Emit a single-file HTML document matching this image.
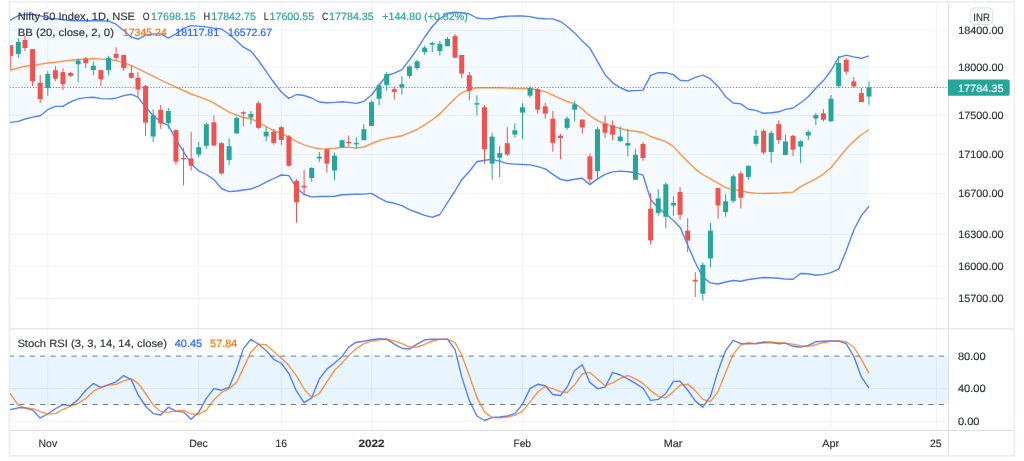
<!DOCTYPE html>
<html lang="en"><head><meta charset="utf-8"><title>Nifty 50 Index chart</title>
<style>html,body{margin:0;padding:0;background:#fff}body{width:1024px;height:461px;overflow:hidden}svg{display:block}text{font-family:"Liberation Sans",sans-serif;font-size:10.7px;text-rendering:geometricPrecision;stroke-width:0.18px;paint-order:stroke}</style></head><body>
<svg width="1024" height="461" viewBox="0 0 1024 461" fill="#30343e">
<defs><clipPath id="cm"><rect x="9.600000000000001" y="1.95" width="938.9000000000001" height="326.85"/></clipPath>
<clipPath id="cs"><rect x="9.600000000000001" y="328.8" width="938.9000000000001" height="101.69999999999999"/></clipPath></defs>
<rect width="1024" height="461" fill="#fff"/>
<g stroke="#f2f3f5" stroke-width="1.1" fill="none">
<path d="M47.776 1.95V430.5"/>
<path d="M198.727 1.95V430.5"/>
<path d="M281.32300000000004 1.95V430.5"/>
<path d="M371.514 1.95V430.5"/>
<path d="M522.465 1.95V430.5"/>
<path d="M673.416 1.95V430.5"/>
<path d="M831.013 1.95V430.5"/>
<path d="M936.3939999999999 1.95V430.5"/>
<path d="M9.3 30.3H948.5"/>
<path d="M9.3 67H948.5"/>
<path d="M9.3 115.4H948.5"/>
<path d="M9.3 154.4H948.5"/>
<path d="M9.3 193.5H948.5"/>
<path d="M9.3 234.4H948.5"/>
<path d="M9.3 266H948.5"/>
<path d="M9.3 298.5H948.5"/>
<path d="M9.3 388.5H948.5"/>
<path d="M9.3 421.2H948.5"/>
</g>
<rect x="9.8" y="356.1" width="938.7" height="48.39999999999998" fill="#2196f3" fill-opacity="0.1"/>
<g clip-path="url(#cm)">
<polygon points="8.75,20.91 10.75,19.80 18.34,15.60 24.99,14.50 32.59,14.50 40.18,15.60 47.78,18.40 55.37,18.75 62.97,19.80 70.56,20.60 78.16,20.80 85.75,20.80 93.35,20.80 100.94,20.80 108.54,21.10 116.13,24.20 123.73,30.50 131.32,37.00 137.97,39.20 145.56,35.10 153.16,33.90 160.75,33.90 168.35,38.10 175.94,33.90 183.54,28.40 191.13,25.60 198.73,26.10 206.32,26.90 213.92,28.10 221.51,29.00 229.11,34.20 236.70,40.80 243.35,47.20 250.94,51.10 258.54,60.50 266.13,71.40 273.73,82.30 281.32,92.00 288.92,98.40 296.51,94.50 304.11,95.50 311.70,98.00 319.30,102.00 326.89,102.80 334.49,102.40 342.08,101.80 348.73,102.40 356.32,103.40 363.92,101.30 371.51,95.00 379.11,85.00 386.70,75.50 394.30,73.20 401.89,69.70 409.49,59.90 417.08,49.20 424.68,37.00 432.27,26.50 439.87,18.50 447.46,13.30 455.06,12.10 461.70,12.70 469.30,14.00 476.89,18.00 484.49,18.90 492.08,18.50 499.68,17.00 507.27,16.20 514.87,16.00 522.47,16.00 530.06,16.60 537.65,18.20 545.25,18.75 552.85,18.90 560.44,21.50 567.09,26.20 574.68,32.90 582.28,41.10 589.87,48.10 597.47,61.40 605.06,74.70 612.66,82.80 620.25,87.70 627.85,91.00 635.44,90.60 643.04,90.10 650.63,75.40 658.23,72.70 665.82,72.70 673.42,74.60 680.06,80.20 687.66,80.90 695.25,77.40 702.85,75.20 710.44,78.90 718.04,86.40 725.63,96.70 733.23,103.00 740.82,103.90 748.42,109.20 756.01,110.40 763.61,113.30 771.20,112.70 778.80,111.80 785.44,109.40 793.04,108.00 800.63,102.70 808.23,96.80 815.82,88.30 823.42,80.60 831.01,70.50 838.61,57.50 846.20,55.20 853.80,56.90 861.39,58.30 868.99,55.90 868.99,206.30 861.39,215.60 853.80,230.00 846.20,250.70 838.61,269.20 831.01,272.70 823.42,274.40 815.82,275.30 808.23,273.80 800.63,273.50 793.04,279.30 785.44,279.10 778.80,278.30 771.20,277.70 763.61,277.50 756.01,278.50 748.42,279.50 740.82,281.25 733.23,280.50 725.63,282.00 718.04,284.00 710.44,283.00 702.85,277.10 695.25,262.50 687.66,244.90 680.06,227.30 673.42,220.50 665.82,214.00 658.23,208.00 650.63,199.50 643.04,175.20 635.44,172.80 627.85,171.80 620.25,171.10 612.66,171.90 605.06,174.40 597.47,178.90 589.87,184.60 582.28,178.30 574.68,179.30 567.09,180.70 560.44,179.30 552.85,174.40 545.25,168.90 537.65,166.70 530.06,164.90 522.47,164.50 514.87,164.10 507.27,163.60 499.68,161.20 492.08,159.40 484.49,160.20 476.89,161.70 469.30,171.50 461.70,179.70 455.06,191.00 447.46,202.70 439.87,214.50 432.27,217.40 424.68,215.40 417.08,212.50 409.49,209.60 401.89,205.70 394.30,203.30 386.70,201.80 379.11,197.90 371.51,193.40 363.92,194.10 356.32,194.30 348.73,194.50 342.08,194.70 334.49,196.30 326.89,196.50 319.30,196.50 311.70,196.90 304.11,194.50 296.51,188.00 288.92,175.60 281.32,175.00 273.73,178.50 266.13,182.20 258.54,186.10 250.94,189.00 243.35,190.00 236.70,191.00 229.11,191.60 221.51,188.50 213.92,179.60 206.32,174.50 198.73,170.80 191.13,164.00 183.54,151.50 175.94,139.60 168.35,125.30 160.75,122.00 153.16,115.50 145.56,107.30 137.97,97.20 131.32,94.30 123.73,95.60 116.13,98.20 108.54,98.90 100.94,98.60 93.35,97.20 85.75,97.60 78.16,98.90 70.56,101.90 62.97,106.40 55.37,106.40 47.78,109.70 40.18,115.70 32.59,117.10 24.99,119.00 18.34,121.40 10.75,122.40 8.75,122.66" fill="#2196f3" fill-opacity="0.05"/>
<polyline points="8.75,70.53 10.75,70.00 18.34,68.00 24.99,66.20 32.59,65.50 40.18,64.10 47.78,63.00 55.37,62.20 62.97,61.25 70.56,60.20 78.16,59.50 85.75,58.90 93.35,58.50 100.94,59.10 108.54,59.30 116.13,60.60 123.73,62.70 131.32,65.60 137.97,68.70 145.56,72.30 153.16,76.20 160.75,80.00 168.35,83.60 175.94,87.10 183.54,90.50 191.13,94.00 198.73,96.60 206.32,99.30 213.92,103.20 221.51,107.70 229.11,112.20 236.70,115.10 243.35,117.50 250.94,118.80 258.54,122.30 266.13,126.60 273.73,130.70 281.32,133.50 288.92,137.00 296.51,141.30 304.11,144.80 311.70,147.10 319.30,148.70 326.89,148.90 334.49,148.30 342.08,147.30 348.73,147.30 356.32,148.10 363.92,147.00 371.51,143.60 379.11,140.50 386.70,138.40 394.30,137.30 401.89,135.80 409.49,132.70 417.08,129.50 424.68,124.80 432.27,119.70 439.87,113.90 447.46,106.10 455.06,98.30 461.70,92.80 469.30,89.70 476.89,87.80 484.49,87.65 492.08,87.70 499.68,87.80 507.27,88.10 514.87,88.40 522.47,88.60 530.06,88.80 537.65,89.80 545.25,91.70 552.85,95.20 560.44,98.55 567.09,101.50 574.68,103.80 582.28,108.90 589.87,115.70 597.47,120.60 605.06,123.90 612.66,126.30 620.25,128.50 627.85,130.50 635.44,131.20 643.04,132.50 650.63,136.50 658.23,139.00 665.82,141.70 673.42,146.40 680.06,153.80 687.66,161.60 695.25,169.10 702.85,174.50 710.44,178.80 718.04,183.10 725.63,187.60 733.23,189.60 740.82,190.50 748.42,192.50 756.01,193.10 763.61,193.50 771.20,193.30 778.80,193.10 785.44,192.50 793.04,192.10 800.63,186.60 808.23,182.70 815.82,178.80 823.42,174.00 831.01,167.50 838.61,158.30 846.20,148.90 853.80,141.10 861.39,134.80 868.99,129.70" fill="none" stroke="#ff6d00" stroke-width="1.38" stroke-opacity="0.72" stroke-linejoin="round"/>
<polyline points="8.75,20.91 10.75,19.80 18.34,15.60 24.99,14.50 32.59,14.50 40.18,15.60 47.78,18.40 55.37,18.75 62.97,19.80 70.56,20.60 78.16,20.80 85.75,20.80 93.35,20.80 100.94,20.80 108.54,21.10 116.13,24.20 123.73,30.50 131.32,37.00 137.97,39.20 145.56,35.10 153.16,33.90 160.75,33.90 168.35,38.10 175.94,33.90 183.54,28.40 191.13,25.60 198.73,26.10 206.32,26.90 213.92,28.10 221.51,29.00 229.11,34.20 236.70,40.80 243.35,47.20 250.94,51.10 258.54,60.50 266.13,71.40 273.73,82.30 281.32,92.00 288.92,98.40 296.51,94.50 304.11,95.50 311.70,98.00 319.30,102.00 326.89,102.80 334.49,102.40 342.08,101.80 348.73,102.40 356.32,103.40 363.92,101.30 371.51,95.00 379.11,85.00 386.70,75.50 394.30,73.20 401.89,69.70 409.49,59.90 417.08,49.20 424.68,37.00 432.27,26.50 439.87,18.50 447.46,13.30 455.06,12.10 461.70,12.70 469.30,14.00 476.89,18.00 484.49,18.90 492.08,18.50 499.68,17.00 507.27,16.20 514.87,16.00 522.47,16.00 530.06,16.60 537.65,18.20 545.25,18.75 552.85,18.90 560.44,21.50 567.09,26.20 574.68,32.90 582.28,41.10 589.87,48.10 597.47,61.40 605.06,74.70 612.66,82.80 620.25,87.70 627.85,91.00 635.44,90.60 643.04,90.10 650.63,75.40 658.23,72.70 665.82,72.70 673.42,74.60 680.06,80.20 687.66,80.90 695.25,77.40 702.85,75.20 710.44,78.90 718.04,86.40 725.63,96.70 733.23,103.00 740.82,103.90 748.42,109.20 756.01,110.40 763.61,113.30 771.20,112.70 778.80,111.80 785.44,109.40 793.04,108.00 800.63,102.70 808.23,96.80 815.82,88.30 823.42,80.60 831.01,70.50 838.61,57.50 846.20,55.20 853.80,56.90 861.39,58.30 868.99,55.90" fill="none" stroke="#2962ff" stroke-width="1.38" stroke-opacity="0.8" stroke-linejoin="round"/>
<polyline points="8.75,122.66 10.75,122.40 18.34,121.40 24.99,119.00 32.59,117.10 40.18,115.70 47.78,109.70 55.37,106.40 62.97,106.40 70.56,101.90 78.16,98.90 85.75,97.60 93.35,97.20 100.94,98.60 108.54,98.90 116.13,98.20 123.73,95.60 131.32,94.30 137.97,97.20 145.56,107.30 153.16,115.50 160.75,122.00 168.35,125.30 175.94,139.60 183.54,151.50 191.13,164.00 198.73,170.80 206.32,174.50 213.92,179.60 221.51,188.50 229.11,191.60 236.70,191.00 243.35,190.00 250.94,189.00 258.54,186.10 266.13,182.20 273.73,178.50 281.32,175.00 288.92,175.60 296.51,188.00 304.11,194.50 311.70,196.90 319.30,196.50 326.89,196.50 334.49,196.30 342.08,194.70 348.73,194.50 356.32,194.30 363.92,194.10 371.51,193.40 379.11,197.90 386.70,201.80 394.30,203.30 401.89,205.70 409.49,209.60 417.08,212.50 424.68,215.40 432.27,217.40 439.87,214.50 447.46,202.70 455.06,191.00 461.70,179.70 469.30,171.50 476.89,161.70 484.49,160.20 492.08,159.40 499.68,161.20 507.27,163.60 514.87,164.10 522.47,164.50 530.06,164.90 537.65,166.70 545.25,168.90 552.85,174.40 560.44,179.30 567.09,180.70 574.68,179.30 582.28,178.30 589.87,184.60 597.47,178.90 605.06,174.40 612.66,171.90 620.25,171.10 627.85,171.80 635.44,172.80 643.04,175.20 650.63,199.50 658.23,208.00 665.82,214.00 673.42,220.50 680.06,227.30 687.66,244.90 695.25,262.50 702.85,277.10 710.44,283.00 718.04,284.00 725.63,282.00 733.23,280.50 740.82,281.25 748.42,279.50 756.01,278.50 763.61,277.50 771.20,277.70 778.80,278.30 785.44,279.10 793.04,279.30 800.63,273.50 808.23,273.80 815.82,275.30 823.42,274.40 831.01,272.70 838.61,269.20 846.20,250.70 853.80,230.00 861.39,215.60 868.99,206.30" fill="none" stroke="#2962ff" stroke-width="1.38" stroke-opacity="0.8" stroke-linejoin="round"/>
<path d="M9.8 87.5H948.5" stroke="#26a69a" stroke-width="1.15" stroke-dasharray="1.1 1.77" fill="none"/>
<g fill="#ef5350"><rect x="10.25" y="45.20" width="1" height="24.40"/><rect x="8.25" y="45.20" width="5" height="10.70"/></g>
<g fill="#26a69a"><rect x="17.84" y="38.30" width="1" height="19.60"/><rect x="15.84" y="42.00" width="5" height="11.90"/></g>
<g fill="#ef5350"><rect x="24.49" y="35.60" width="1" height="15.40"/><rect x="22.49" y="40.00" width="5" height="8.00"/></g>
<g fill="#ef5350"><rect x="32.09" y="49.10" width="1" height="36.90"/><rect x="30.09" y="49.10" width="5" height="32.20"/></g>
<g fill="#ef5350"><rect x="39.68" y="75.00" width="1" height="28.00"/><rect x="37.68" y="82.70" width="5" height="16.40"/></g>
<g fill="#26a69a"><rect x="47.28" y="71.10" width="1" height="24.70"/><rect x="45.28" y="73.90" width="5" height="14.10"/></g>
<g fill="#ef5350"><rect x="54.87" y="66.25" width="1" height="15.05"/><rect x="52.87" y="70.20" width="5" height="8.55"/></g>
<g fill="#ef5350"><rect x="62.47" y="68.20" width="1" height="21.80"/><rect x="60.47" y="72.10" width="5" height="12.10"/></g>
<g fill="#ef5350"><rect x="70.06" y="71.70" width="1" height="5.10"/><rect x="68.06" y="72.90" width="5" height="2.90"/></g>
<g fill="#26a69a"><rect x="77.66" y="58.80" width="1" height="23.50"/><rect x="75.66" y="60.40" width="5" height="3.90"/></g>
<g fill="#ef5350"><rect x="85.25" y="56.90" width="1" height="11.10"/><rect x="83.25" y="58.80" width="5" height="4.30"/></g>
<g fill="#26a69a"><rect x="92.85" y="61.75" width="1" height="13.25"/><rect x="90.85" y="65.70" width="5" height="4.30"/></g>
<g fill="#ef5350"><rect x="100.44" y="70.20" width="1" height="15.80"/><rect x="98.44" y="70.20" width="5" height="9.10"/></g>
<g fill="#26a69a"><rect x="108.04" y="55.90" width="1" height="19.50"/><rect x="106.04" y="57.85" width="5" height="12.15"/></g>
<g fill="#ef5350"><rect x="115.63" y="47.10" width="1" height="13.30"/><rect x="113.63" y="53.90" width="5" height="3.95"/></g>
<g fill="#ef5350"><rect x="123.23" y="54.90" width="1" height="16.00"/><rect x="121.23" y="54.90" width="5" height="13.30"/></g>
<g fill="#ef5350"><rect x="130.82" y="65.70" width="1" height="13.05"/><rect x="128.82" y="72.90" width="5" height="4.90"/></g>
<g fill="#ef5350"><rect x="137.47" y="72.10" width="1" height="24.60"/><rect x="135.47" y="77.80" width="5" height="11.70"/></g>
<g fill="#ef5350"><rect x="145.06" y="84.80" width="1" height="50.90"/><rect x="143.06" y="86.00" width="5" height="36.60"/></g>
<g fill="#26a69a"><rect x="152.66" y="109.30" width="1" height="32.80"/><rect x="150.66" y="115.20" width="5" height="21.40"/></g>
<g fill="#ef5350"><rect x="160.25" y="105.00" width="1" height="23.80"/><rect x="158.25" y="109.90" width="5" height="13.50"/></g>
<g fill="#26a69a"><rect x="167.85" y="107.90" width="1" height="20.90"/><rect x="165.85" y="110.90" width="5" height="12.10"/></g>
<g fill="#ef5350"><rect x="175.44" y="129.20" width="1" height="35.60"/><rect x="173.44" y="130.20" width="5" height="31.40"/></g>
<g fill="#ef5350"><rect x="183.04" y="147.80" width="1" height="37.70"/><rect x="181.04" y="158.00" width="5" height="1.30"/></g>
<g fill="#ef5350"><rect x="190.63" y="131.70" width="1" height="38.90"/><rect x="188.63" y="158.50" width="5" height="7.20"/></g>
<g fill="#26a69a"><rect x="198.23" y="141.90" width="1" height="15.40"/><rect x="196.23" y="147.20" width="5" height="7.30"/></g>
<g fill="#26a69a"><rect x="205.82" y="122.30" width="1" height="26.40"/><rect x="203.82" y="124.30" width="5" height="21.50"/></g>
<g fill="#ef5350"><rect x="213.42" y="115.50" width="1" height="30.70"/><rect x="211.42" y="122.30" width="5" height="23.10"/></g>
<g fill="#ef5350"><rect x="221.01" y="141.90" width="1" height="32.70"/><rect x="219.01" y="143.20" width="5" height="30.30"/></g>
<g fill="#26a69a"><rect x="228.61" y="138.40" width="1" height="26.40"/><rect x="226.61" y="146.20" width="5" height="13.90"/></g>
<g fill="#26a69a"><rect x="236.20" y="116.50" width="1" height="17.00"/><rect x="234.20" y="117.90" width="5" height="15.60"/></g>
<g fill="#ef5350"><rect x="242.85" y="111.00" width="1" height="15.25"/><rect x="240.85" y="112.20" width="5" height="1.55"/></g>
<g fill="#26a69a"><rect x="250.44" y="111.00" width="1" height="13.30"/><rect x="248.44" y="113.90" width="5" height="3.60"/></g>
<g fill="#ef5350"><rect x="258.04" y="101.25" width="1" height="27.55"/><rect x="256.04" y="103.20" width="5" height="24.60"/></g>
<g fill="#26a69a"><rect x="265.63" y="126.80" width="1" height="14.50"/><rect x="263.63" y="131.70" width="5" height="4.70"/></g>
<g fill="#ef5350"><rect x="273.23" y="129.20" width="1" height="15.60"/><rect x="271.23" y="131.70" width="5" height="11.20"/></g>
<g fill="#ef5350"><rect x="280.82" y="125.90" width="1" height="18.90"/><rect x="278.82" y="127.20" width="5" height="12.70"/></g>
<g fill="#ef5350"><rect x="288.42" y="135.00" width="1" height="31.80"/><rect x="286.42" y="136.40" width="5" height="29.30"/></g>
<g fill="#ef5350"><rect x="296.01" y="179.20" width="1" height="43.50"/><rect x="294.01" y="180.80" width="5" height="21.50"/></g>
<g fill="#ef5350"><rect x="303.61" y="170.00" width="1" height="24.50"/><rect x="301.61" y="185.70" width="5" height="1.80"/></g>
<g fill="#26a69a"><rect x="311.20" y="167.00" width="1" height="14.70"/><rect x="309.20" y="168.00" width="5" height="10.00"/></g>
<g fill="#26a69a"><rect x="318.80" y="152.00" width="1" height="10.00"/><rect x="316.80" y="156.70" width="5" height="1.80"/></g>
<g fill="#ef5350"><rect x="326.39" y="148.70" width="1" height="23.90"/><rect x="324.39" y="149.30" width="5" height="14.40"/></g>
<g fill="#26a69a"><rect x="333.99" y="152.70" width="1" height="27.40"/><rect x="331.99" y="155.70" width="5" height="14.80"/></g>
<g fill="#26a69a"><rect x="341.58" y="139.50" width="1" height="7.80"/><rect x="339.58" y="140.30" width="5" height="7.00"/></g>
<g fill="#ef5350"><rect x="348.23" y="135.60" width="1" height="10.60"/><rect x="346.23" y="141.85" width="5" height="1.20"/></g>
<g fill="#26a69a"><rect x="355.82" y="137.40" width="1" height="11.30"/><rect x="353.82" y="142.90" width="5" height="1.50"/></g>
<g fill="#26a69a"><rect x="363.42" y="124.20" width="1" height="16.00"/><rect x="361.42" y="129.20" width="5" height="11.00"/></g>
<g fill="#26a69a"><rect x="371.01" y="100.50" width="1" height="25.40"/><rect x="369.01" y="102.20" width="5" height="23.70"/></g>
<g fill="#26a69a"><rect x="378.61" y="83.75" width="1" height="21.25"/><rect x="376.61" y="85.30" width="5" height="13.45"/></g>
<g fill="#26a69a"><rect x="386.20" y="72.00" width="1" height="18.80"/><rect x="384.20" y="74.20" width="5" height="10.70"/></g>
<g fill="#ef5350"><rect x="393.80" y="86.30" width="1" height="13.10"/><rect x="391.80" y="89.20" width="5" height="2.70"/></g>
<g fill="#26a69a"><rect x="401.39" y="76.10" width="1" height="18.60"/><rect x="399.39" y="84.30" width="5" height="3.00"/></g>
<g fill="#26a69a"><rect x="408.99" y="65.40" width="1" height="13.10"/><rect x="406.99" y="66.40" width="5" height="9.50"/></g>
<g fill="#26a69a"><rect x="416.58" y="59.90" width="1" height="9.80"/><rect x="414.58" y="61.30" width="5" height="6.80"/></g>
<g fill="#26a69a"><rect x="424.18" y="45.70" width="1" height="8.90"/><rect x="422.18" y="47.60" width="5" height="4.50"/></g>
<g fill="#26a69a"><rect x="431.77" y="42.00" width="1" height="10.10"/><rect x="429.77" y="42.90" width="5" height="1.80"/></g>
<g fill="#26a69a"><rect x="439.37" y="40.80" width="1" height="14.80"/><rect x="437.37" y="43.90" width="5" height="7.20"/></g>
<g fill="#26a69a"><rect x="446.96" y="37.10" width="1" height="9.15"/><rect x="444.96" y="38.80" width="5" height="7.45"/></g>
<g fill="#ef5350"><rect x="454.56" y="34.10" width="1" height="24.30"/><rect x="452.56" y="36.10" width="5" height="21.50"/></g>
<g fill="#ef5350"><rect x="461.20" y="55.00" width="1" height="22.90"/><rect x="459.20" y="55.00" width="5" height="18.60"/></g>
<g fill="#ef5350"><rect x="468.80" y="72.20" width="1" height="28.20"/><rect x="466.80" y="75.20" width="5" height="15.60"/></g>
<g fill="#26a69a"><rect x="476.39" y="95.20" width="1" height="20.30"/><rect x="474.39" y="103.10" width="5" height="1.50"/></g>
<g fill="#ef5350"><rect x="483.99" y="105.00" width="1" height="59.00"/><rect x="481.99" y="107.25" width="5" height="42.05"/></g>
<g fill="#26a69a"><rect x="491.58" y="132.80" width="1" height="46.90"/><rect x="489.58" y="136.70" width="5" height="26.90"/></g>
<g fill="#26a69a"><rect x="499.18" y="146.10" width="1" height="31.20"/><rect x="497.18" y="153.10" width="5" height="4.60"/></g>
<g fill="#ef5350"><rect x="506.77" y="127.00" width="1" height="29.20"/><rect x="504.77" y="143.20" width="5" height="11.20"/></g>
<g fill="#26a69a"><rect x="514.37" y="123.30" width="1" height="14.20"/><rect x="512.37" y="130.30" width="5" height="4.20"/></g>
<g fill="#26a69a"><rect x="521.97" y="103.00" width="1" height="36.20"/><rect x="519.97" y="107.30" width="5" height="5.30"/></g>
<g fill="#26a69a"><rect x="529.56" y="86.25" width="1" height="11.25"/><rect x="527.56" y="88.20" width="5" height="7.40"/></g>
<g fill="#ef5350"><rect x="537.15" y="88.20" width="1" height="25.60"/><rect x="535.15" y="89.20" width="5" height="20.50"/></g>
<g fill="#ef5350"><rect x="544.75" y="103.00" width="1" height="15.50"/><rect x="542.75" y="106.40" width="5" height="7.20"/></g>
<g fill="#ef5350"><rect x="552.35" y="110.90" width="1" height="40.80"/><rect x="550.35" y="118.70" width="5" height="24.20"/></g>
<g fill="#ef5350"><rect x="559.94" y="133.70" width="1" height="25.40"/><rect x="557.94" y="135.70" width="5" height="2.30"/></g>
<g fill="#26a69a"><rect x="566.59" y="116.50" width="1" height="13.30"/><rect x="564.59" y="118.50" width="5" height="9.40"/></g>
<g fill="#26a69a"><rect x="574.18" y="101.10" width="1" height="20.30"/><rect x="572.18" y="104.40" width="5" height="5.30"/></g>
<g fill="#ef5350"><rect x="581.78" y="119.10" width="1" height="14.60"/><rect x="579.78" y="119.60" width="5" height="7.90"/></g>
<g fill="#ef5350"><rect x="589.37" y="153.60" width="1" height="29.60"/><rect x="587.37" y="156.40" width="5" height="22.90"/></g>
<g fill="#26a69a"><rect x="596.97" y="126.90" width="1" height="51.40"/><rect x="594.97" y="129.20" width="5" height="41.90"/></g>
<g fill="#ef5350"><rect x="604.56" y="115.70" width="1" height="22.50"/><rect x="602.56" y="123.40" width="5" height="9.30"/></g>
<g fill="#ef5350"><rect x="612.16" y="120.40" width="1" height="19.80"/><rect x="610.16" y="125.30" width="5" height="9.40"/></g>
<g fill="#26a69a"><rect x="619.75" y="126.30" width="1" height="15.80"/><rect x="617.75" y="136.60" width="5" height="4.50"/></g>
<g fill="#26a69a"><rect x="627.35" y="128.75" width="1" height="27.55"/><rect x="625.35" y="143.10" width="5" height="2.60"/></g>
<g fill="#26a69a"><rect x="634.94" y="148.90" width="1" height="30.85"/><rect x="632.94" y="154.80" width="5" height="24.95"/></g>
<g fill="#ef5350"><rect x="642.54" y="142.10" width="1" height="18.70"/><rect x="640.54" y="144.00" width="5" height="14.00"/></g>
<g fill="#ef5350"><rect x="650.13" y="192.90" width="1" height="51.60"/><rect x="648.13" y="208.75" width="5" height="31.65"/></g>
<g fill="#26a69a"><rect x="657.73" y="189.20" width="1" height="26.55"/><rect x="655.73" y="198.40" width="5" height="14.45"/></g>
<g fill="#26a69a"><rect x="665.32" y="182.30" width="1" height="46.00"/><rect x="663.32" y="184.30" width="5" height="32.45"/></g>
<g fill="#26a69a"><rect x="672.92" y="196.40" width="1" height="19.35"/><rect x="670.92" y="203.00" width="5" height="2.50"/></g>
<g fill="#ef5350"><rect x="679.56" y="187.20" width="1" height="32.30"/><rect x="677.56" y="191.90" width="5" height="22.90"/></g>
<g fill="#ef5350"><rect x="687.16" y="218.20" width="1" height="33.90"/><rect x="685.16" y="230.70" width="5" height="9.90"/></g>
<g fill="#ef5350"><rect x="694.75" y="272.10" width="1" height="24.80"/><rect x="692.75" y="279.80" width="5" height="1.60"/></g>
<g fill="#26a69a"><rect x="702.35" y="262.60" width="1" height="38.00"/><rect x="700.35" y="264.80" width="5" height="28.95"/></g>
<g fill="#26a69a"><rect x="709.94" y="223.00" width="1" height="44.20"/><rect x="707.94" y="230.70" width="5" height="27.70"/></g>
<g fill="#ef5350"><rect x="717.54" y="188.00" width="1" height="30.70"/><rect x="715.54" y="188.00" width="5" height="17.50"/></g>
<g fill="#26a69a"><rect x="725.13" y="194.10" width="1" height="22.65"/><rect x="723.13" y="201.30" width="5" height="10.70"/></g>
<g fill="#26a69a"><rect x="732.73" y="174.50" width="1" height="28.35"/><rect x="730.73" y="176.30" width="5" height="24.60"/></g>
<g fill="#ef5350"><rect x="740.32" y="171.00" width="1" height="37.45"/><rect x="738.32" y="173.40" width="5" height="24.40"/></g>
<g fill="#26a69a"><rect x="747.92" y="165.20" width="1" height="14.60"/><rect x="745.92" y="166.10" width="5" height="10.80"/></g>
<g fill="#26a69a"><rect x="755.51" y="129.90" width="1" height="16.10"/><rect x="753.51" y="135.85" width="5" height="8.00"/></g>
<g fill="#ef5350"><rect x="763.11" y="128.75" width="1" height="25.65"/><rect x="761.11" y="130.95" width="5" height="21.55"/></g>
<g fill="#26a69a"><rect x="770.70" y="130.95" width="1" height="31.85"/><rect x="768.70" y="132.90" width="5" height="19.20"/></g>
<g fill="#ef5350"><rect x="778.30" y="120.20" width="1" height="23.65"/><rect x="776.30" y="124.10" width="5" height="15.85"/></g>
<g fill="#26a69a"><rect x="784.94" y="134.70" width="1" height="20.30"/><rect x="782.94" y="141.45" width="5" height="13.55"/></g>
<g fill="#ef5350"><rect x="792.54" y="134.70" width="1" height="21.45"/><rect x="790.54" y="135.85" width="5" height="13.75"/></g>
<g fill="#26a69a"><rect x="800.13" y="140.20" width="1" height="22.70"/><rect x="798.13" y="141.30" width="5" height="5.30"/></g>
<g fill="#26a69a"><rect x="807.73" y="130.00" width="1" height="10.20"/><rect x="805.73" y="132.00" width="5" height="3.60"/></g>
<g fill="#26a69a"><rect x="815.32" y="112.85" width="1" height="12.15"/><rect x="813.32" y="115.05" width="5" height="3.45"/></g>
<g fill="#ef5350"><rect x="822.92" y="109.00" width="1" height="12.60"/><rect x="820.92" y="113.30" width="5" height="6.40"/></g>
<g fill="#26a69a"><rect x="830.51" y="95.00" width="1" height="26.90"/><rect x="828.51" y="98.75" width="5" height="22.50"/></g>
<g fill="#26a69a"><rect x="838.11" y="55.90" width="1" height="31.80"/><rect x="836.11" y="63.00" width="5" height="23.10"/></g>
<g fill="#ef5350"><rect x="845.70" y="58.00" width="1" height="16.70"/><rect x="843.70" y="59.80" width="5" height="11.90"/></g>
<g fill="#ef5350"><rect x="853.30" y="77.00" width="1" height="11.00"/><rect x="851.30" y="81.40" width="5" height="5.00"/></g>
<g fill="#ef5350"><rect x="860.89" y="88.00" width="1" height="14.00"/><rect x="858.89" y="93.10" width="5" height="8.90"/></g>
<g fill="#26a69a"><rect x="868.49" y="81.40" width="1" height="23.35"/><rect x="866.49" y="87.30" width="5" height="9.30"/></g>
</g>
<g clip-path="url(#cs)">
<g stroke="#70737e" stroke-width="0.95" stroke-dasharray="5.2 5.25" fill="none"><path d="M8.76 356.1H948.5"/><path d="M8.76 404.5H948.5"/></g>
<polyline points="8.75,409.95 10.75,409.50 18.34,407.80 24.99,407.80 32.59,410.10 40.18,417.90 47.78,414.00 55.37,408.75 62.97,404.65 70.56,405.80 78.16,399.40 85.75,390.20 93.35,383.40 100.94,387.70 108.54,384.70 116.13,381.80 123.73,375.55 131.32,379.85 137.97,394.50 145.56,406.20 153.16,413.60 160.75,415.00 168.35,407.20 175.94,411.10 183.54,412.10 191.13,419.30 198.73,412.30 206.32,398.40 213.92,388.60 221.51,390.20 229.11,387.30 236.70,369.10 243.35,348.60 250.94,339.20 258.54,344.30 266.13,350.55 273.73,359.30 281.32,363.25 288.92,373.60 296.51,391.20 304.11,402.70 311.70,397.80 319.30,378.90 326.89,369.10 334.49,363.25 342.08,356.40 348.73,347.20 356.32,342.20 363.92,341.20 371.51,339.80 379.11,338.80 386.70,339.20 394.30,344.10 401.89,348.20 409.49,349.00 417.08,344.10 424.68,339.80 432.27,339.20 439.87,339.20 447.46,339.20 455.06,349.60 461.70,376.90 469.30,400.40 476.89,416.00 484.49,420.50 492.08,417.35 499.68,417.00 507.27,416.00 514.87,413.60 522.47,404.30 530.06,388.60 537.65,384.30 545.25,385.70 552.85,394.50 560.44,395.50 567.09,387.30 574.68,370.50 582.28,364.80 589.87,382.40 597.47,388.60 605.06,387.10 612.66,372.40 620.25,375.00 627.85,378.90 635.44,383.40 643.04,388.25 650.63,400.40 658.23,399.40 665.82,393.50 673.42,381.40 680.06,381.20 687.66,390.00 695.25,400.90 702.85,407.20 710.44,396.45 718.04,371.10 725.63,350.55 733.23,340.40 740.82,343.70 748.42,343.70 756.01,343.50 763.61,342.00 771.20,342.20 778.80,343.70 785.44,343.10 793.04,346.30 800.63,347.20 808.23,345.30 815.82,341.80 823.42,341.20 831.01,341.00 838.61,341.00 846.20,343.70 853.80,356.40 861.39,376.90 868.99,388.05" fill="none" stroke="#2962ff" stroke-width="1.38" stroke-opacity="0.8" stroke-linejoin="round"/>
<polyline points="8.75,391.68 10.75,394.50 18.34,405.20 24.99,407.80 32.59,408.60 40.18,411.70 47.78,414.00 55.37,413.60 62.97,409.50 70.56,406.20 78.16,403.30 85.75,398.40 93.35,391.20 100.94,387.10 108.54,385.10 116.13,384.30 123.73,380.80 131.32,378.90 137.97,383.20 145.56,393.50 153.16,404.85 160.75,411.70 168.35,412.10 175.94,411.10 183.54,410.10 191.13,414.00 198.73,414.40 206.32,410.10 213.92,399.80 221.51,392.50 229.11,388.60 236.70,382.20 243.35,368.10 250.94,352.10 258.54,344.10 266.13,344.70 273.73,351.50 281.32,358.00 288.92,365.60 296.51,375.90 304.11,389.00 311.70,397.40 319.30,393.50 326.89,381.80 334.49,370.50 342.08,362.90 348.73,355.40 356.32,348.60 363.92,343.70 371.51,341.20 379.11,339.80 386.70,339.30 394.30,340.80 401.89,343.70 409.49,347.00 417.08,347.00 424.68,344.30 432.27,341.00 439.87,339.40 447.46,339.20 455.06,342.70 461.70,355.00 469.30,375.40 476.89,397.40 484.49,412.10 492.08,417.50 499.68,417.90 507.27,417.00 514.87,415.40 522.47,411.10 530.06,401.90 537.65,392.20 545.25,386.30 552.85,388.60 560.44,391.60 567.09,392.50 574.68,384.70 582.28,374.00 589.87,372.40 597.47,378.90 605.06,385.70 612.66,382.80 620.25,378.30 627.85,375.40 635.44,378.90 643.04,383.40 650.63,390.60 658.23,396.10 665.82,397.80 673.42,391.60 680.06,385.30 687.66,384.15 695.25,390.60 702.85,399.40 710.44,401.70 718.04,391.60 725.63,372.60 733.23,354.10 740.82,344.70 748.42,342.70 756.01,343.70 763.61,343.10 771.20,342.50 778.80,342.70 785.44,343.10 793.04,344.30 800.63,345.70 808.23,346.30 815.82,344.70 823.42,342.70 831.01,341.40 838.61,341.00 846.20,341.80 853.80,347.00 861.39,359.30 868.99,373.40" fill="none" stroke="#ff6d00" stroke-width="1.38" stroke-opacity="0.72" stroke-linejoin="round"/>
</g>
<g stroke="#dcdee4" stroke-width="1" fill="none">
<path d="M948.5 1.95V455.8"/>
<path d="M9.3 430.5H1014.3"/>
<path d="M9.3 328.8H1014.3"/>
</g>
<rect x="9.3" y="1.95" width="1005.0" height="453.85" fill="none" stroke="#ebedf3" stroke-width="1.6"/>
<text x="958.2" y="33.95" stroke="#30343e" textLength="45.3" lengthAdjust="spacingAndGlyphs" font-size="12.6">18400.00</text>
<text x="958.2" y="70.65" stroke="#30343e" textLength="45.3" lengthAdjust="spacingAndGlyphs" font-size="12.6">18000.00</text>
<text x="958.2" y="119.05" stroke="#30343e" textLength="45.3" lengthAdjust="spacingAndGlyphs" font-size="12.6">17500.00</text>
<text x="958.2" y="158.05" stroke="#30343e" textLength="45.3" lengthAdjust="spacingAndGlyphs" font-size="12.6">17100.00</text>
<text x="958.2" y="197.15" stroke="#30343e" textLength="45.3" lengthAdjust="spacingAndGlyphs" font-size="12.6">16700.00</text>
<text x="958.2" y="238.05" stroke="#30343e" textLength="45.3" lengthAdjust="spacingAndGlyphs" font-size="12.6">16300.00</text>
<text x="958.2" y="269.65" stroke="#30343e" textLength="45.3" lengthAdjust="spacingAndGlyphs" font-size="12.6">16000.00</text>
<text x="958.2" y="302.15" stroke="#30343e" textLength="45.3" lengthAdjust="spacingAndGlyphs" font-size="12.6">15700.00</text>
<text x="957.9" y="359.75" stroke="#30343e" textLength="27.8" lengthAdjust="spacingAndGlyphs" font-size="12.6">80.00</text>
<text x="957.9" y="392.15" stroke="#30343e" textLength="27.8" lengthAdjust="spacingAndGlyphs" font-size="12.6">40.00</text>
<text x="957.9" y="424.85" stroke="#30343e" textLength="21.6" lengthAdjust="spacingAndGlyphs" font-size="12.6">0.00</text>
<rect x="970.3" y="7.9" width="22.3" height="16.6" rx="3.6" fill="#fff" stroke="#dde0ea" stroke-width="1"/>
<text x="973.3" y="20.6" stroke="#30343e" textLength="16.5" lengthAdjust="spacingAndGlyphs" font-size="11.7">INR</text>
<path d="M948.0 79.5H1007.7a2 2 0 0 1 2 2V93.7a2 2 0 0 1 -2 2H948.0Z" fill="#26a69a"/>
<text x="957.9" y="91.7" fill="#fff" stroke="#fff" textLength="45.6" lengthAdjust="spacingAndGlyphs" font-size="12.6">17784.35</text>
<text x="38.57" y="446.9" stroke="#30343e" textLength="18.56" lengthAdjust="spacingAndGlyphs" font-size="11.8">Nov</text>
<text x="189.2" y="446.9" stroke="#30343e" textLength="18.6" lengthAdjust="spacingAndGlyphs" font-size="11.8">Dec</text>
<text x="275.4" y="446.9" stroke="#30343e" textLength="11.6" lengthAdjust="spacingAndGlyphs" font-size="12.6">16</text>
<text x="358.55" y="446.9" stroke="#30343e" textLength="26.1" lengthAdjust="spacingAndGlyphs" font-weight="bold" font-size="12.6">2022</text>
<text x="513.4000000000001" y="446.9" stroke="#30343e" textLength="17.6" lengthAdjust="spacingAndGlyphs" font-size="11.8">Feb</text>
<text x="663.7" y="446.9" stroke="#30343e" textLength="18.6" lengthAdjust="spacingAndGlyphs" font-size="11.8">Mar</text>
<text x="822.2" y="446.9" stroke="#30343e" textLength="17" lengthAdjust="spacingAndGlyphs" font-size="11.8">Apr</text>
<text x="930.0" y="446.9" stroke="#30343e" textLength="11.6" lengthAdjust="spacingAndGlyphs" font-size="12.6">25</text>
<text x="17.8" y="19.65" stroke="#30343e" textLength="117.2" lengthAdjust="spacingAndGlyphs">Nifty 50 Index, 1D, NSE</text>
<text x="142.8" y="19.65" stroke="#30343e" textLength="6.8" lengthAdjust="spacingAndGlyphs">O</text>
<text x="151.1" y="19.65" fill="#26a69a" stroke="#26a69a" textLength="44.6" lengthAdjust="spacingAndGlyphs" font-size="11.3">17698.15</text>
<text x="203.4" y="19.65" stroke="#30343e" textLength="6.6" lengthAdjust="spacingAndGlyphs">H</text>
<text x="211.25" y="19.65" fill="#26a69a" stroke="#26a69a" textLength="44.6" lengthAdjust="spacingAndGlyphs" font-size="11.3">17842.75</text>
<text x="263.7" y="19.65" stroke="#30343e" textLength="5.0" lengthAdjust="spacingAndGlyphs">L</text>
<text x="269.5" y="19.65" fill="#26a69a" stroke="#26a69a" textLength="44.6" lengthAdjust="spacingAndGlyphs" font-size="11.3">17600.55</text>
<text x="321.9" y="19.65" stroke="#30343e" textLength="6.2" lengthAdjust="spacingAndGlyphs">C</text>
<text x="329.1" y="19.65" fill="#26a69a" stroke="#26a69a" textLength="44.6" lengthAdjust="spacingAndGlyphs" font-size="11.3">17784.35</text>
<text x="382.2" y="19.65" fill="#26a69a" stroke="#26a69a" textLength="85.6" lengthAdjust="spacingAndGlyphs" font-size="11.3">+144.80 (+0.82%)</text>
<text x="17.8" y="35.7" stroke="#30343e" textLength="96.1" lengthAdjust="spacingAndGlyphs">BB (20, close, 2, 0)</text>
<text x="122.8" y="35.7" fill="#ff6d00" stroke="#ff6d00" textLength="44" lengthAdjust="spacingAndGlyphs" font-size="11.3">17345.24</text>
<text x="175.3" y="35.7" fill="#2962ff" stroke="#2962ff" textLength="44" lengthAdjust="spacingAndGlyphs" font-size="11.3">18117.81</text>
<text x="228.1" y="35.7" fill="#2962ff" stroke="#2962ff" textLength="44" lengthAdjust="spacingAndGlyphs" font-size="11.3">16572.67</text>
<text x="17.4" y="346.9" stroke="#30343e" textLength="149.6" lengthAdjust="spacingAndGlyphs">Stoch RSI (3, 3, 14, 14, close)</text>
<text x="174.8" y="346.9" fill="#2962ff" stroke="#2962ff" textLength="27.3" lengthAdjust="spacingAndGlyphs" font-size="11.3">40.45</text>
<text x="210.1" y="346.9" fill="#ff6d00" stroke="#ff6d00" textLength="27.3" lengthAdjust="spacingAndGlyphs" font-size="11.3">57.84</text>
</svg></body></html>
